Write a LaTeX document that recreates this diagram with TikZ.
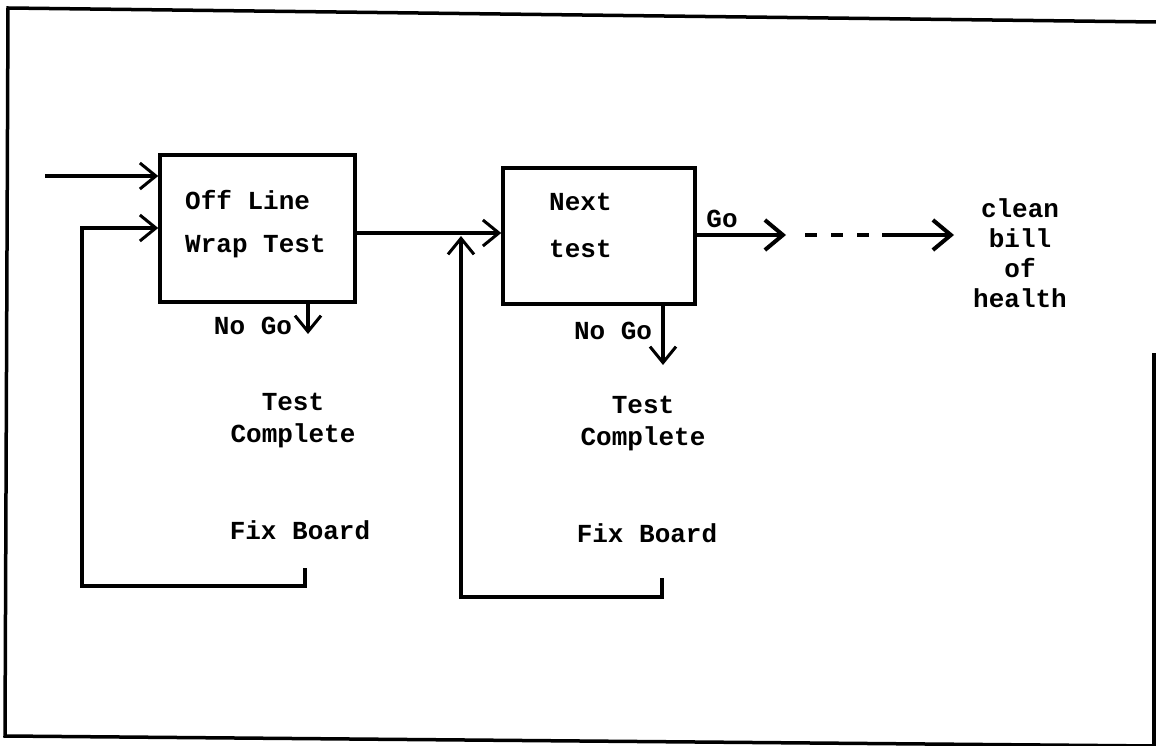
\documentclass[tikz,border=0pt]{standalone}
\usepackage{fontspec}
\setmainfont{Liberation Mono}
\usetikzlibrary{arrows.meta}
\begin{document}
\begin{tikzpicture}[x=1pt,y=-1pt,
  ln/.style={line width=3.2pt},
  arr/.style={ln,-{Straight Barb[length=16pt,width=26pt,line width=3pt]}},
  boldarr/.style={ln,-{Straight Barb[length=18pt,width=30pt,line width=4pt]}},
  boxn/.style={draw,line width=3.5pt,inner sep=0pt},
  txt/.style={font=\fontsize{26}{32}\selectfont\bfseries,inner sep=0pt,align=center},
  frame/.style={line width=3.5pt}]
\useasboundingbox (0,0) rectangle (1156,746);
% frame
\draw[frame] (1156,22) -- (8,8) -- (5,736) -- (1156,746);
\draw[frame] (1154,353) -- (1154,746);
% boxes
\node[boxn,minimum width=195pt,minimum height=147pt] (b1) at (257.5,228.5) {};
\node[boxn,minimum width=192pt,minimum height=136pt] (b2) at (599,236) {};
\node[txt,anchor=west] (t1a) at (185,200) {Off Line};
\node[txt,anchor=west] (t1b) at (185,247) {Wrap Test};
\node[txt,anchor=west] (t2a) at (549,202) {Next};
\node[txt,anchor=west] (t2b) at (549,249) {test};
% labels
\node[txt] (ng1) at (253,326) {No Go};
\node[txt] (ng2) at (613,331) {No Go};
\node[txt] (go) at (722,219) {Go};
\node[txt] (tc1) at (293,421) {Test\\Complete};
\node[txt] (tc2) at (643,424) {Test\\Complete};
\node[txt] (fb1) at (300,530) {Fix Board};
\node[txt] (fb2) at (647,533) {Fix Board};
\node[txt,font=\fontsize{26}{30}\selectfont\bfseries] (cb) at (1020,253) {clean\\bill\\of\\health};
% coordinates
\coordinate (in1) at (45,176);
\coordinate (lb1) at (305,568);
\coordinate (lb2) at (82,586);
\coordinate (rb1) at (662,578);
\coordinate (rb2) at (461,597);
\coordinate (ngt1) at (308,334);
\coordinate (ngt2) at (663,365);
\coordinate (gotip) at (786,235);
\coordinate (d1) at (805,235);
\coordinate (d2) at (869,235);
\coordinate (s1) at (882,235);
\coordinate (s2) at (954,235);
% connectors
\draw[arr] (in1) -- (in1 -| b1.west);
\draw[arr] (lb1) -- (lb1 |- lb2) -- (lb2) -- (lb2 |- 0,228) -- (b1.west |- 0,228);
\draw[arr] (b1.east |- 0,233) -- (b2.west |- 0,233);
\draw[arr] (rb1) -- (rb1 |- rb2) -- (rb2) -- (rb2 |- 0,236);
\draw[arr] (b1.south -| ngt1) -- (ngt1);
\draw[arr] (b2.south -| ngt2) -- (ngt2);
\draw[boldarr] (b2.east |- gotip) -- (gotip);
\draw[ln,dash pattern=on 12pt off 14pt] (d1) -- (d2);
\draw[boldarr] (s1) -- (s2);
\end{tikzpicture}
\end{document}
